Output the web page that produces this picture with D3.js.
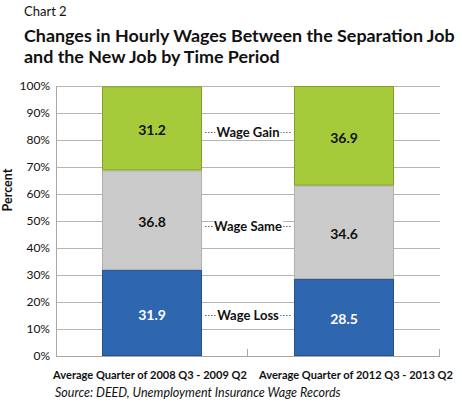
<!DOCTYPE html>
<html><head><meta charset="utf-8">
<script src="https://cdn.jsdelivr.net/npm/d3@7"></script>
<style>body{margin:0;background:#fff}svg{display:block}text{font-family:Lato,"Open Sans",sans-serif;fill:#111}</style>
</head><body>
<script>
const categories = ["Average Quarter of 2008 Q3 - 2009 Q2", "Average Quarter of 2012 Q3 - 2013 Q2"];
const seriesNames = ["Wage Loss", "Wage Same", "Wage Gain"];
const wageLoss = [31.9, 28.5];
const wageSame = [36.8, 34.6];
const wageGain = [31.2, 36.9];
const yTicks = [0,10,20,30,40,50,60,70,80,90,100];
const colors = ["#2e66b0", "#cbcbcb", "#a6cb3a"];
const strokes = ["#24508c", "#b0b0b0", "#7f9e2a"];
const labelColors = ["#ffffff", "#111111", "#111111"];

const W = 462, H = 405;
const svg = d3.select("body").append("svg").attr("width", W).attr("height", H);
const m = {l:56, r:22, t:86, b:49};
const x = d3.scaleBand().domain(categories).range([m.l, W - m.r]).paddingInner(0.479).paddingOuter(0.2396);
const y = d3.scaleLinear().domain([0,100]).range([H - m.b, m.t]);

function fit(sel, w){
  const n = sel.node(), len = n.getComputedTextLength();
  const fs = parseFloat(sel.attr("font-size"));
  sel.attr("font-size", Math.min(fs * 1.08, fs * w / len).toFixed(2));
  return sel;
}

// titles
svg.append("text").attr("x",24).attr("y",16).attr("font-size",13).text("Chart 2");
fit(svg.append("text").attr("x",24).attr("y",42).attr("font-size",17).attr("font-weight","bold").text("Changes in Hourly Wages Between the Separation Job"), 431);
svg.append("text").attr("x",24).attr("y",63).attr("font-size",svg.select("text:nth-of-type(2)").attr("font-size")).attr("font-weight","bold").text("and the New Job by Time Period");

// gridlines
svg.append("g").selectAll("line").data(yTicks.filter(d=>d>0)).join("line")
  .attr("x1", m.l).attr("x2", W - m.r).attr("y1", d=>y(d)).attr("y2", d=>y(d))
  .attr("stroke","#b5b5b5").attr("stroke-width",1).attr("shape-rendering","crispEdges");

// y axis labels
svg.append("g").selectAll("text").data(yTicks).join("text")
  .attr("x", 50).attr("y", d=>y(d)).attr("dy","0.35em").attr("text-anchor","end")
  .attr("font-size",12).attr("fill","#222").text(d=>d+"%");
svg.append("text").attr("transform","translate(12,190) rotate(-90)").attr("text-anchor","middle")
  .attr("font-size",12.5).attr("font-weight","bold").text("Percent");

// stacked bars
const data = categories.map((c,i)=>({cat:c, v:[wageLoss[i], wageSame[i], wageGain[i]]}));
const stack = data.map(d=>{ let acc=0; return d.v.map((v,k)=>{ const s={cat:d.cat,k,v,y0:acc,y1:acc+v}; acc+=v; return s; }); }).flat();
svg.append("g").selectAll("rect").data(stack).join("rect")
  .attr("x", d=>x(d.cat)+0.5).attr("width", x.bandwidth()-1)
  .attr("y", d=>y(d.y1)+0.5).attr("height", d=>y(d.y0)-y(d.y1)-1)
  .attr("fill", d=>colors[d.k]).attr("stroke", d=>strokes[d.k]).attr("stroke-width",1);
svg.append("g").selectAll("text").data(stack).join("text")
  .attr("x", d=>x(d.cat)+x.bandwidth()/2).attr("y", d=>(y(d.y0)+y(d.y1))/2 + 2).attr("dy","0.35em")
  .attr("text-anchor","middle").attr("font-size",14).attr("font-weight","bold")
  .style("fill", d=>labelColors[d.k]).text(d=>d.v.toFixed(1));

// axes lines
svg.append("line").attr("x1",m.l+0.5).attr("x2",m.l+0.5).attr("y1",m.t).attr("y2",y(0)).attr("stroke","#a8a8a8");
svg.append("line").attr("x1",m.l).attr("x2",W-m.r).attr("y1",y(0)+0.5).attr("y2",y(0)+0.5).attr("stroke","#a8a8a8");
const tickXs = [x(categories[0]) + x.bandwidth() + x.step()*x.paddingInner()/2 ];
tickXs.push(W - m.r);
svg.append("g").selectAll("line").data(tickXs).join("line")
  .attr("x1", d=>Math.round(d)-0.5).attr("x2", d=>Math.round(d)-0.5).attr("y1", y(0)).attr("y2", y(0)-7).attr("stroke","#a8a8a8");

// series leader labels
const midX = tickXs[0];
const gap1 = x(categories[0]) + x.bandwidth() + 3, gap2 = x(categories[1]) - 3;
seriesNames.forEach((name,k)=>{
  const segs = stack.filter(s=>s.k===k);
  const cy = d3.mean(segs, s=>(y(s.y0)+y(s.y1))/2);
  const g = svg.append("g");
  g.append("line").attr("x1",gap1).attr("x2",gap2).attr("y1",Math.round(cy)+0.5).attr("y2",Math.round(cy)+0.5)
    .attr("stroke","#444").attr("stroke-width",0.8).attr("stroke-dasharray","1.5,1.5");
  const t = g.append("text").attr("x",midX).attr("y",cy).attr("dy","0.35em").attr("text-anchor","middle")
    .attr("font-size",13).attr("font-weight","bold").text(name);
  const bb = t.node().getBBox();
  g.insert("rect","text").attr("x",bb.x-1).attr("y",bb.y+1).attr("width",bb.width+2).attr("height",bb.height-2).attr("fill","#fff");
});

// category labels
const catOffsets = [-2, 12];
categories.forEach((c,i)=>{
  fit(svg.append("text").attr("x", x(c)+x.bandwidth()/2+catOffsets[i]).attr("y",379).attr("text-anchor","middle")
    .attr("font-size",12.5).attr("font-weight","bold").text(c), 194);
});
svg.append("text").attr("x",55).attr("y",397).attr("font-size",12.5).attr("font-style","italic").attr("fill","#222")
  .text("Source: DEED, Unemployment Insurance Wage Records");
</script>
</body></html>
